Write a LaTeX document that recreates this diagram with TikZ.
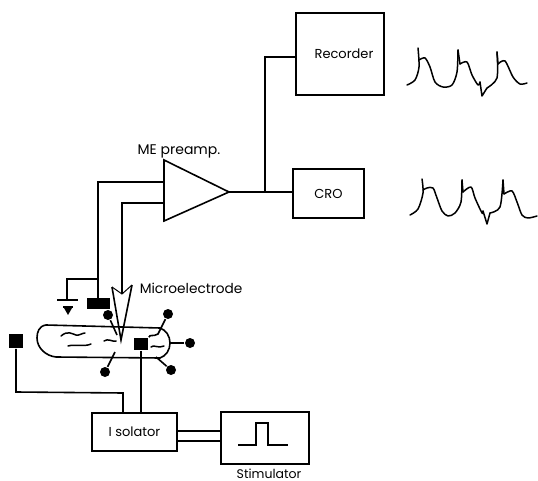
\documentclass[tikz,border=0pt]{standalone}
\usepackage{fontspec}
\setmainfont{Poppins}
\usetikzlibrary{arrows.meta,positioning,shapes.geometric}

\begin{document}
\begin{tikzpicture}[
    x=1pt, y=-1pt,
    line width=1.6pt,
    box/.style={rectangle, draw=black, inner sep=0pt, font=\fontsize{13}{15}\selectfont},
    label/.style={inner sep=0pt, font=\fontsize{13}{15}\selectfont},
    pad/.style={rectangle, fill=black, inner sep=0pt},
    ball/.style={circle, fill=black, inner sep=0pt, minimum size=10pt},
    trace/.style={line width=1.5pt, line join=round, line cap=round}
    ]
    \useasboundingbox (0,0) rectangle (538,481);

    \node[box, minimum width=88pt, minimum height=82pt] (Recorder) at (340,54) {};
    \node[label] at (344,54) {Recorder};
    \node[box, minimum width=71pt, minimum height=49pt] (CRO) at (328.5,193.5) {CRO};
    \node[box, minimum width=85pt, minimum height=38pt] (Isolator) at (134.5,432) {I solator};
    \node[box, minimum width=88pt, minimum height=52pt] (Stimulator) at (265,438) {};
    \node[label, font=\fontsize{12.5}{15}\selectfont, below=3pt of Stimulator, xshift=4pt] (StimLabel) {Stimulator};

    % preamp
    \coordinate (AmpTop) at (164,160);
    \coordinate (AmpBottom) at (164,221);
    \coordinate (AmpTip) at (229,192);
    \draw (AmpTop) -- (AmpTip) -- (AmpBottom) -- cycle;
    \node[label, font=\fontsize{14}{16}\selectfont, anchor=base] (AmpLabel) at (179,155) {ME preamp.};

    % output wires
    \coordinate (Branch) at (265,192);
    \draw (AmpTip) -- (CRO.west |- AmpTip);
    \draw (Branch) -- (265,57) -- (Recorder.west |- 0,57);

    % bath
    \draw (160,328) -- (46,325) .. controls (39,326) and (37,332) .. (37,338)
      .. controls (37,348) and (46,356) .. (56,357) -- (160,358)
      .. controls (166,356) and (170,350) .. (170,343)
      .. controls (170,336) and (166,330) .. (160,328);
    \node[pad, minimum width=23pt, minimum height=11pt] (RefPad) at (98.5,303) {};
    \node[pad, minimum width=14pt, minimum height=12pt] (StimPadA) at (141,344) {};
    \node[pad, minimum width=14pt, minimum height=14pt] (StimPadB) at (16,341) {};

    \node[ball] (BallA) at (108,315) {};
    \node[ball] (BallB) at (168,314) {};
    \node[ball] (BallC) at (190,343) {};
    \node[ball] (BallD) at (171,370) {};
    \node[ball] (BallE) at (105,372) {};
    \coordinate (EndA) at (117,335);
    \coordinate (EndB) at (158,334);
    \coordinate (EndC) at (170,343);
    \coordinate (EndD) at (156,357);
    \coordinate (EndE) at (115,352);
    \draw (BallA) -- (EndA);
    \draw (BallB) -- (EndB) .. controls (153,337) and (150,334) .. (StimPadA.north east);
    \draw (BallC) -- (EndC);
    \draw (BallD) -- (EndD);
    \draw (BallE) -- (EndE);

    % liquid
    \draw[trace] (61,336) .. controls (68,330) and (72,334) .. (76,335) .. controls (79,336) and (82,333) .. (85,333);
    \draw[trace] (68,346) .. controls (75,344) and (85,347) .. (91,344);
    \draw[trace] (104,341) .. controls (108,338) and (112,342) .. (116,341);
    \draw[trace] (151,347) .. controls (154,344) and (158,349) .. (164,346);

    % microelectrode
    \coordinate (TipE) at (121,340);
    \coordinate (ProbeL) at (112,287);
    \coordinate (ProbeR) at (132,285);
    \coordinate (ProbeM) at (122,294);
    \draw (ProbeL) -- (TipE) -- (ProbeR);
    \draw[line width=1pt] (ProbeL) -- (ProbeM) -- (ProbeR);
    \node[label, font=\fontsize{13.7}{16}\selectfont, anchor=west] (ElectrodeLabel) at (139,288) {Microelectrode};

    % input wires
    \coordinate (InA) at (164,182);
    \coordinate (InB) at (164,203);
    \draw (InA) -- (98,182) -- (98,298);
    \draw (InB) -- (122,203) -- (ProbeM);

    % ground
    \coordinate (GroundTop) at (67,279);
    \coordinate (GroundBar) at (67,300);
    \draw (98,279) -- (GroundTop) -- (GroundBar);
    \draw (57,300) -- (78,300);
    \draw (63,307) -- (73,307);
    \fill (64,308) -- (72,308) -- (68,315) -- cycle;

    % stimulus wires
    \draw (StimPadA) -- (StimPadA |- Isolator.north);
    \draw (StimPadB) -- (16,392) -- (123,393) -- (123,413);
    \draw (Isolator.east |- 0,431) -- (Stimulator.west |- 0,431);
    \draw (Isolator.east |- 0,441) -- (Stimulator.west |- 0,441);

    % pulse
    \draw (238,445) -- (256,445) -- (256,423) -- (268,423) -- (268,445) -- (288,445);

    % traces
    \draw[trace] plot[smooth, tension=0.5] coordinates {(407,85) (415,80) (419,67) (418,48)};
    \draw[trace] plot[smooth, tension=0.5] coordinates {(419,60) (425,58) (430,67) (435,82) (443,87) (452,85) (457,72) (458,50)};
    \draw[trace] (458,50) -- (460,64);
    \draw[trace] plot[smooth, tension=0.5] coordinates {(460,64) (467,62) (472,75) (478,85) (480,82)};
    \draw[trace] (480,82) -- (482,96) -- (487,88);
    \draw[trace] plot[smooth, tension=0.5] coordinates {(487,88) (497,78) (497,52)};
    \draw[trace] (497,52) -- (498,64);
    \draw[trace] plot[smooth, tension=0.5] coordinates {(498,64) (505,61) (513,77) (520,84) (527,83)};

    \draw[trace] plot[smooth, tension=0.5] coordinates {(410,215) (418,209) (423,193) (422,179)};
    \draw[trace] plot[smooth, tension=0.5] coordinates {(423,190) (427,188) (433,188) (437,198) (442,211) (448,216) (455,213) (461,202) (462,180)};
    \draw[trace] (462,180) -- (463,192);
    \draw[trace] plot[smooth, tension=0.5] coordinates {(463,192) (471,187) (475,198) (482,213) (483,211)};
    \draw[trace] (483,211) -- (487,224) -- (490,213);
    \draw[trace] plot[smooth, tension=0.5] coordinates {(490,213) (500,207) (503,180)};
    \draw[trace] (503,180) -- (504,194);
    \draw[trace] plot[smooth, tension=0.5] coordinates {(504,194) (512,191) (517,202) (522,215) (528,218) (537,216)};
  \end{tikzpicture}
\end{document}
